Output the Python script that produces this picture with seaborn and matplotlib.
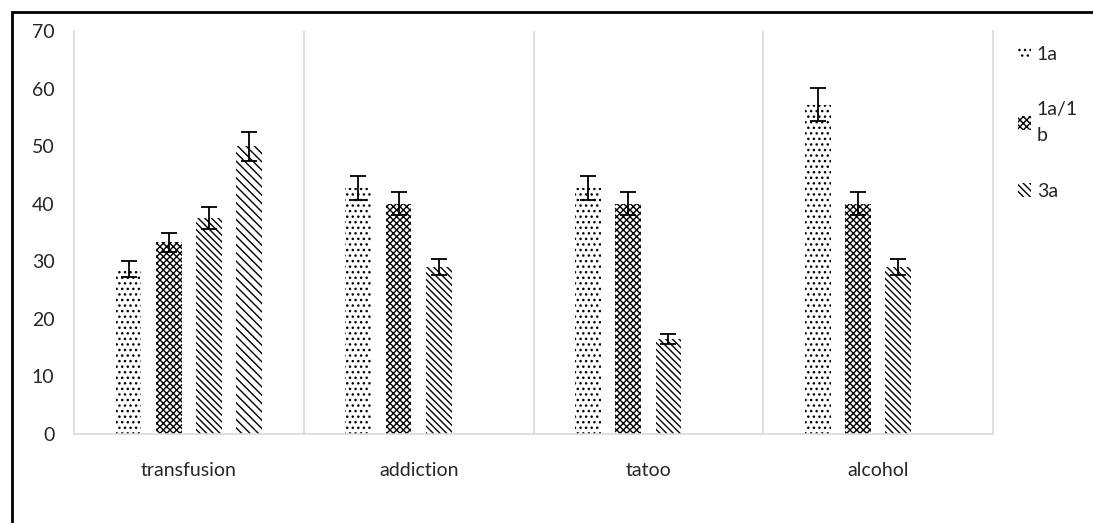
import numpy as np
import matplotlib.pyplot as plt
import pandas as pd
import seaborn as sns
from matplotlib.patches import Rectangle

# kategorie i serie
kategorie = ['transfusion', 'addiction', 'tatoo', 'alcohol']
serie = ['1a', '1a/1b', '3a', 'inne']

# wartości
wart_1a = [28.6, 42.8, 42.8, 57.2]
wart_1a1b = [33.3, 40.0, 40.0, 40.0]
wart_3a = [37.5, 29.0, 16.5, 29.0]
wart_inne = [50.0]          # tylko transfusion

# słupki błędów
err_1a = [1.4, 2.1, 2.1, 2.9]
err_1a1b = [1.7, 2.0, 2.0, 2.0]
err_3a = [1.9, 1.4, 0.85, 1.4]
err_inne = [2.5]

wiersze = []
for seria, wart, err in [('1a', wart_1a, err_1a), ('1a/1b', wart_1a1b, err_1a1b),
                         ('3a', wart_3a, err_3a), ('inne', wart_inne, err_inne)]:
    for k, w, e in zip(kategorie, wart, err):
        wiersze.append({'kat': k, 'seria': seria, 'wartosc': w, 'blad': e})
df = pd.DataFrame(wiersze)

sns.set_style('white')
plt.rcParams['font.family'] = ['Lato', 'DejaVu Sans']
plt.rcParams['hatch.linewidth'] = 1.0

fig = plt.figure(figsize=(10.93, 5.23), dpi=100)
ax = fig.add_axes([74 / 1093, 1 - 434 / 523, (993 - 74) / 1093, (434 - 31) / 523])

sns.barplot(data=df, x='kat', y='wartosc', hue='seria', order=kategorie, hue_order=serie,
            palette=['white'] * 4, saturation=1, width=0.7, gap=0.36,
            errorbar=None, legend=False, ax=ax)

wzory = ['...', 'xxxxx', '\\' * 5, '\\' * 4]
for cont, seria, wzor in zip(ax.containers, serie, wzory):
    dane = df[df['seria'] == seria].set_index('kat')
    for p in cont.patches:
        p.set_hatch(wzor)
        p.set_facecolor('white')
        p.set_edgecolor('black')
        p.set_linewidth(0)
        xc = p.get_x() + p.get_width() / 2
        k = kategorie[int(round(xc))]
        ax.errorbar(xc, dane.loc[k, 'wartosc'], yerr=dane.loc[k, 'blad'],
                    fmt='none', ecolor='black', elinewidth=1.3, capsize=6, capthick=1.3)

ax.set_xlim(-0.5, 3.5)
ax.set_ylim(0, 70)
ax.set_yticks(range(0, 71, 10))
ax.set_xlabel('')
ax.set_ylabel('')
ax.tick_params(axis='y', length=0, pad=14, labelsize=14)
ax.tick_params(axis='x', length=0, pad=20, labelsize=14)

szary = '#d9d9d9'
for x in [0.5, 1.5, 2.5]:
    ax.axvline(x, color=szary, lw=1.2, zorder=0)
for s in ['left', 'right', 'bottom']:
    ax.spines[s].set_color(szary)
    ax.spines[s].set_linewidth(1.2)
ax.spines['top'].set_visible(False)

uchwyty = [ax.containers[i].patches[0] for i in range(3)]
leg = fig.legend(uchwyty, ['1a', '1a/1\nb', '3a'], loc='upper left',
                 bbox_to_anchor=(1000 / 1093, 1 - 28 / 523), frameon=False,
                 fontsize=14, handlelength=0.7, handleheight=0.7, handletextpad=0.3,
                 labelspacing=2.0)
for t in leg.get_texts():
    t.set_linespacing(1.6)

# ramka wokół rysunku
fig.patches.append(Rectangle((12 / 1093, -0.1), 1.2, 1 - 12 / 523 + 0.1,
                             transform=fig.transFigure, fill=False, edgecolor='black',
                             lw=2, clip_on=False))

plt.savefig('out.png', dpi=100)
